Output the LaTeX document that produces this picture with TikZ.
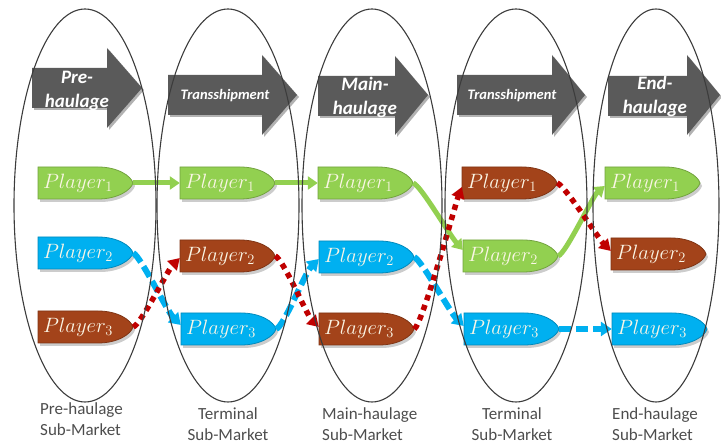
\documentclass[tikz,border=0pt]{standalone}
\usepackage{fontspec}
\setmainfont{Carlito}
\usetikzlibrary{arrows.meta,calc,shadows}

\definecolor{pgreen}{HTML}{92D050}
\definecolor{pblue}{HTML}{00B0F0}
\definecolor{pbrown}{HTML}{A3431A}
\definecolor{lred}{HTML}{C00000}
\definecolor{stagegray}{HTML}{5A5A5A}
\definecolor{rimgray}{HTML}{3C3C3C}
\definecolor{labelgray}{HTML}{4D4D4D}
\definecolor{cream}{HTML}{FBF6E6}

\tikzset{
  stagearrow/.style={fill=stagegray,
    drop shadow={shadow xshift=2pt, shadow yshift=-2pt, opacity=.3, fill=black}},
  stagetext/.style={text=white, inner sep=0pt, align=center,
    font=\fontsize{19}{24}\selectfont\bfseries\itshape},
  shiptext/.style={text=white, inner sep=0pt,
    font=\fontsize{14.5}{17}\selectfont\bfseries\itshape},
  playerlabel/.style={minimum width=95pt, minimum height=32pt, inner xsep=5pt,
    inner ysep=0pt, text width=85pt, align=left, text=cream,
    font=\fontsize{21.5}{22}\selectfont},
  flowgreen/.style={draw=pgreen, line width=5pt, -{Triangle[length=10pt,width=13pt]}},
  flowblue/.style={draw=pblue, line width=6pt, dash pattern=on 12pt off 5pt,
    -{Triangle[length=11pt,width=14pt]}},
  flowred/.style={draw=lred, line width=5.5pt, dash pattern=on 5.5pt off 5pt,
    -{Triangle[length=11pt,width=13pt]}},
  rim/.style={draw=rimgray, line width=1.1pt},
  marketlabel/.style={text=labelgray, inner sep=0pt,
    font=\fontsize{17}{21}\selectfont},
}

% player tag: flat left end, rounded point on the right
\newcommand\playerbox[5]{%
  \fill[black, opacity=.2, shift={(#2+2,#3+3)}]
    (0,0) -- (60,0) .. controls (80,0) and (93,9) .. (95,16)
    .. controls (93,23) and (80,32) .. (60,32) -- (0,32) -- cycle;
  \filldraw[fill=#4, draw=#4!78!black, line width=.8pt, shift={(#2,#3)}]
    (0,0) -- (60,0) .. controls (80,0) and (93,9) .. (95,16)
    .. controls (93,23) and (80,32) .. (60,32) -- (0,32) -- cycle;
  \node[playerlabel] (#1) at (#2+47.5,#3+16) {$Player_{#5}$};
}

\begin{document}
\begin{tikzpicture}[x=1pt,y=-1pt]
\useasboundingbox (0,0) rectangle (721,446);

% stage arrows
\fill[stagearrow] (32,68) -- (107,68) -- (107,48) -- (142,88) -- (107,128) -- (107,108) -- (32,108) -- cycle;
\fill[stagearrow] (168,75) -- (262,75) -- (262,55) -- (297,95) -- (262,135) -- (262,115) -- (168,115) -- cycle;
\fill[stagearrow] (318,76) -- (395,76) -- (395,56) -- (428,95) -- (395,135) -- (395,116) -- (318,116) -- cycle;
\fill[stagearrow] (457,75) -- (552,75) -- (552,55) -- (585,95) -- (552,135) -- (552,115) -- (457,115) -- cycle;
\fill[stagearrow] (608,76) -- (687,76) -- (687,55) -- (720,95) -- (687,135) -- (687,116) -- (608,116) -- cycle;

\node[stagetext] (s1) at (77,91) {Pre-\\haulage};
\node[shiptext]  (s2) at (225,96) {Transshipment};
\node[stagetext] (s3) at (365,97) {Main-\\haulage};
\node[shiptext]  (s4) at (512,96) {Transshipment};
\node[stagetext] (s5) at (655,96) {End-\\haulage};

% players in each sub-market
\playerbox{a1}{38}{167}{pgreen}{1}
\playerbox{a2}{38}{237}{pblue}{2}
\playerbox{a3}{38}{311}{pbrown}{3}
\playerbox{b1}{180}{167}{pgreen}{1}
\playerbox{b2}{180}{240}{pbrown}{2}
\playerbox{b3}{181}{313}{pblue}{3}
\playerbox{c1}{318}{167}{pgreen}{1}
\playerbox{c2}{319}{241}{pblue}{2}
\playerbox{c3}{319}{313}{pbrown}{3}
\playerbox{d1}{462}{167}{pbrown}{1}
\playerbox{d2}{463}{240}{pgreen}{2}
\playerbox{d3}{464}{313}{pblue}{3}
\playerbox{e1}{605}{167}{pgreen}{1}
\playerbox{e2}{611}{238}{pbrown}{2}
\playerbox{e3}{612}{313}{pblue}{3}

% flows between sub-markets
\draw[flowgreen] (a1.east) -- (b1.west);
\draw[flowgreen] (b1.east) -- (c1.west);
\draw[flowgreen] (c1.east) .. controls +(8,3) and +(-14,-16) .. ($(d2.west)+(0,-6)$);
\draw[flowgreen] (d2.east) .. controls +(8,-3) and +(-12,10) .. ($(e1.west)+(0,3)$);

\draw[flowblue] (a2.east) .. controls +(8,4) and +(-14,-14) .. ($(b3.west)+(0,-4)$);
\draw[flowblue] (b3.east) .. controls +(8,-3) and +(-14,14) .. ($(c2.west)+(0,2)$);
\draw[flowblue] (c2.east) .. controls +(8,4) and +(-14,-14) .. ($(d3.west)+(0,-3)$);
\draw[flowblue] (d3.east) -- (e3.west);

\draw[flowred] (a3.east) .. controls +(8,-3) and +(-12,12) .. ($(b2.west)+(0,2)$);
\draw[flowred] (b2.east) .. controls +(8,3) and +(-12,-12) .. ($(c3.west)+(0,-2)$);
\draw[flowred] (c3.east) .. controls +(8,-4) and +(-6,16) .. ($(d1.west)+(0,4)$);
\draw[flowred] (d1.east) .. controls +(8,3) and +(-12,-12) .. ($(e2.west)+(0,-3)$);

% sub-market outlines
\draw[rim] (85,205.5) ellipse [x radius=71, y radius=196.5];
\draw[rim] (228,205.5) ellipse [x radius=71, y radius=196.5];
\draw[rim] (372,205.5) ellipse [x radius=70, y radius=196.5];
\draw[rim] (516,205.5) ellipse [x radius=71, y radius=196.5];
\draw[rim] (656,205.5) ellipse [x radius=63, y radius=196.5];

% sub-market names
\node[marketlabel, align=left, anchor=west] (m1) at (40,419) {Pre-haulage\\Sub-Market};
\node[marketlabel, align=center] (m2) at (228,424.5) {Terminal\\Sub-Market};
\node[marketlabel, align=left, anchor=west] (m3) at (322,424.5) {Main-haulage\\Sub-Market};
\node[marketlabel, align=center] (m4) at (512,424.5) {Terminal\\Sub-Market};
\node[marketlabel, align=left, anchor=west] (m5) at (612,424.5) {End-haulage\\Sub-Market};
\end{tikzpicture}
\end{document}
